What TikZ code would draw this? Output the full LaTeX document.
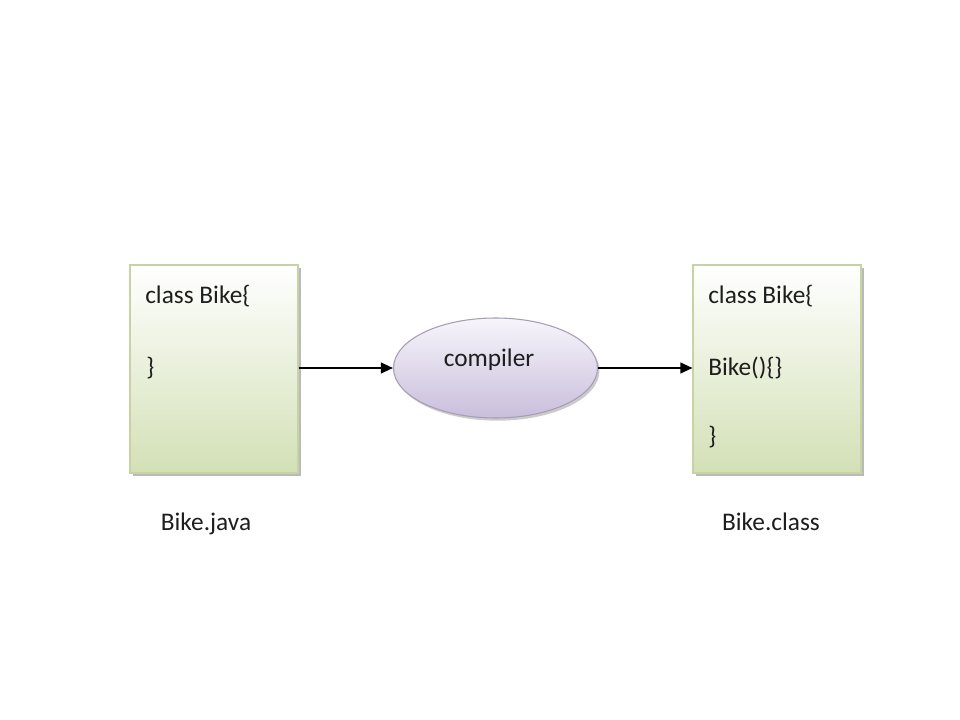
\documentclass[tikz,border=0pt]{standalone}
\usepackage{fontspec}
\setmainfont{Carlito}
\usetikzlibrary{shapes.geometric,shadows,arrows.meta}
\definecolor{boxtop}{HTML}{FFFFFF}
\definecolor{boxbot}{HTML}{D3E0B6}
\definecolor{boxline}{HTML}{C5D4A2}
\definecolor{elltop}{HTML}{F7F5FB}
\definecolor{ellbot}{HTML}{C9BEDB}
\definecolor{ellline}{HTML}{A79DB8}
\definecolor{txt}{HTML}{1E1E1E}
\tikzset{
  filebox/.style={draw=boxline, line width=0.8pt, top color=boxtop, bottom color=boxbot,
    minimum width=126pt, minimum height=156pt, inner sep=0pt,
    drop shadow={shadow xshift=2pt, shadow yshift=-2.5pt, fill=black!45, opacity=0.6}},
  compbox/.style={ellipse, draw=ellline, line width=0.8pt, top color=elltop, bottom color=ellbot,
    minimum width=153pt, minimum height=75pt, inner sep=0pt,
    drop shadow={shadow xshift=1.5pt, shadow yshift=-2pt, fill=black!40, opacity=0.5}},
  code/.style={anchor=west, inner sep=0pt, text=txt, font=\fontsize{19}{22}\selectfont},
  caption/.style={anchor=base, inner sep=0pt, text=txt, font=\fontsize{19}{22}\selectfont},
  flow/.style={-{Triangle[length=9pt,width=8pt]}, line width=1.5pt, black},
}
\begin{document}
\begin{tikzpicture}[x=0.75pt,y=-0.75pt]
\useasboundingbox (0,0) rectangle (960,720);
\fill[white] (0,0) rectangle (960,720);
\node[filebox] (src) at (214,369) {};
\node[filebox] (cls) at (777,369) {};
\node[compbox] (comp) at (495.5,368) {};
\node[inner sep=0pt, text=txt, font=\fontsize{19}{22}\selectfont] (ctext) at (489,360) {compiler};
\node[code] (s1) at (145,296) {class Bike\{};
\node[code] (s2) at (146,368) {\}};
\node[code] (c1) at (708,296) {class Bike\{};
\node[code] (c2) at (708,368) {Bike()\{\}};
\node[code] (c3) at (708,437) {\}};
\node[caption] (srcname) at (206,530) {Bike.java};
\node[caption] (clsname) at (771,530) {Bike.class};
\draw[flow] (comp.west -| src.east) -- (comp.west);
\draw[flow] (comp.east) -- (comp.east -| cls.west);
\end{tikzpicture}
\end{document}
